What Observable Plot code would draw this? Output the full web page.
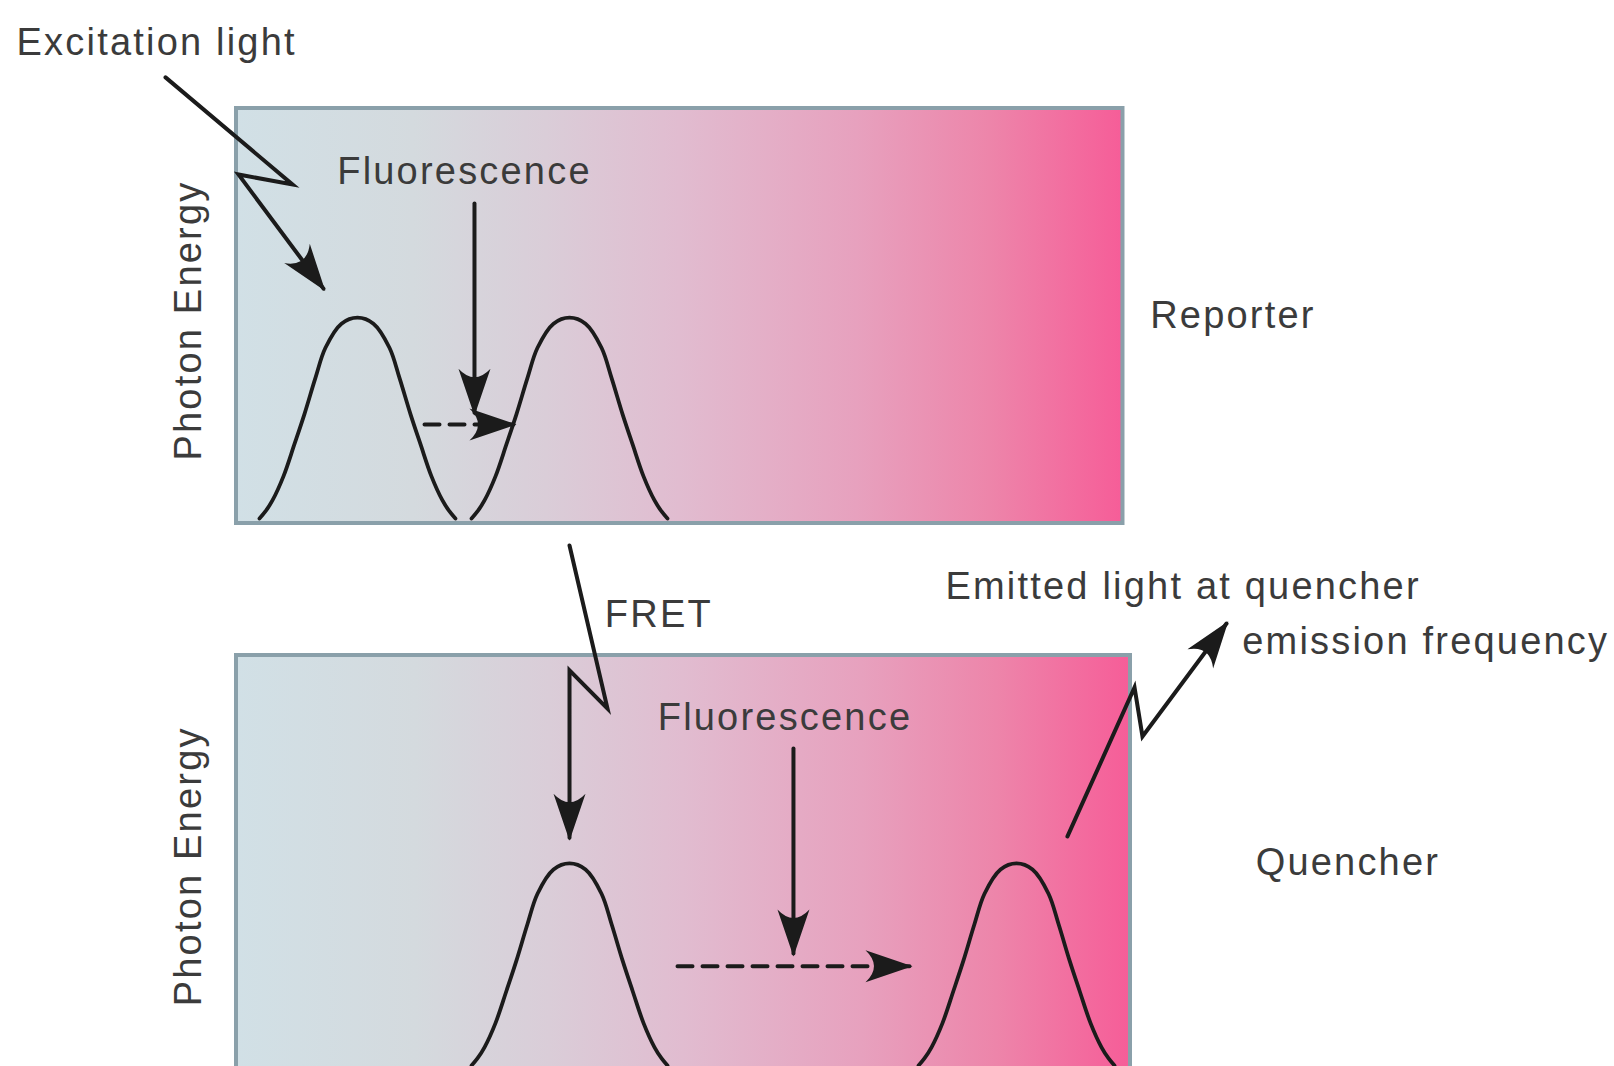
<!DOCTYPE html>
<html>
<head>
<meta charset="utf-8">
<script src="https://cdn.jsdelivr.net/npm/d3@7"></script>
<script src="https://cdn.jsdelivr.net/npm/@observablehq/plot@0.6"></script>
<style>
  html, body { margin: 0; padding: 0; background: #ffffff; overflow: hidden; }
  #chart svg { display: block; }
</style>
</head>
<body>
<div id="chart"></div>
<script>
// ---- Panels (x: relative wavelength 0..100, y: relative photon energy 0..1) ----
const panels = ["Reporter", "Quencher"];
const panelRightEdge = [99.16, 100];

// ---- Emission / absorption peaks ----
const peakPanel = ["Reporter", "Reporter", "Quencher", "Quencher"];
const peakCenter = [13.53, 37.25, 37.25, 87.25];
const peakTop = [0.496, 0.496, 0.499, 0.499];
const peakBase = 0.012;
// peak shape (offset from centre, fraction of height)
const profileOffset = [0, 1.79, 3.58, 4.70, 5.93, 7.05, 8.28, 9.51, 10.3, 10.96];
const profileLevel  = [1, 0.97, 0.85, 0.70, 0.52, 0.37, 0.21, 0.09, 0.035, 0];

// ---- Arrows ----
const arrowNames  = ["excitation", "reporterFluor", "reporterShift", "fret", "quencherFluor", "quencherShift", "emitted"];
const arrowPanel  = ["Reporter", "Reporter", "Reporter", "Quencher", "Quencher", "Quencher", "Quencher"];
const arrowDashed = [false, false, true, false, false, true, false];
const arrowX = [
  [-7.94, 6.26, 0.22, 9.73],
  [26.62, 26.62],
  [21.03, 30.98],
  [37.25, 41.50, 37.25, 37.25],
  [62.30, 62.30],
  [49.33, 75.28],
  [92.95, 100.45, 101.34, 110.74]
];
const arrowY = [
  [1.075, 0.817, 0.841, 0.566],
  [0.771, 0.267],
  [0.2386, 0.2386],
  [1.265, 0.872, 0.964, 0.561],
  [0.776, 0.282],
  [0.251, 0.251],
  [0.564, 0.923, 0.805, 1.077]
];
const arrowHeadAngle = [143, 180, 90, 180, 180, 90, 36.6];

// ---- Labels ----
const labelText  = ["Excitation light", "Fluorescence", "Reporter", "Photon Energy",
                    "FRET", "Fluorescence", "Emitted light at quencher", "emission frequency", "Quencher", "Photon Energy"];
const labelPanel = ["Reporter", "Reporter", "Reporter", "Reporter",
                    "Quencher", "Quencher", "Quencher", "Quencher", "Quencher", "Quencher"];
const labelX = [-24.6, 25.5, 102.2, -5.37, 41.2, 61.35, 79.3, 112.5, 114.0, -5.37];
const labelY = [1.158, 0.848, 0.500, 0.489, 1.098, 0.851, 1.165, 1.032, 0.500, 0.492];
const labelAnchor = ["start", "middle", "start", "middle", "start", "middle", "start", "start", "start", "middle"];
const labelRotate = [0, 0, 0, -90, 0, 0, 0, 0, 0, -90];

// ---- Build tables for Plot ----
const panelData = panels.map((p, i) => ({panel: p, right: panelRightEdge[i]}));

const sideOffset = [...profileOffset.slice(1).reverse().map(d => -d), ...profileOffset];
const sideLevel  = [...profileLevel.slice(1).reverse(), ...profileLevel];
const peakPoints = peakCenter.flatMap((c, i) => sideOffset.map((o, j) => ({
  peak: i, panel: peakPanel[i], x: c + o, y: peakBase + sideLevel[j] * (peakTop[i] - peakBase)
})));

const arrowPoints = arrowNames.flatMap((n, i) => arrowX[i].map((x, j) => ({
  name: n, panel: arrowPanel[i], dashed: arrowDashed[i], x, y: arrowY[i][j]
})));
const heads = arrowNames.map((n, i) => ({
  name: n, panel: arrowPanel[i],
  x: arrowX[i][arrowX[i].length - 1], y: arrowY[i][arrowY[i].length - 1], angle: arrowHeadAngle[i]
}));
const labels = labelText.map((t, i) => ({
  text: t, panel: labelPanel[i], x: labelX[i], y: labelY[i], anchor: labelAnchor[i], rotate: labelRotate[i]
}));

// arrowhead symbol (pointing up, tip at the anchor point)
const headSymbol = {
  draw(ctx) {
    ctx.moveTo(0, -3);
    ctx.lineTo(16, 44);
    ctx.quadraticCurveTo(0, 27, -16, 44);
    ctx.closePath();
  }
};

const gradientDefs = () => {
  const defs = d3.create("svg:defs");
  const g = defs.append("linearGradient").attr("id", "panelGrad")
    .attr("x1", "0").attr("y1", "0").attr("x2", "1").attr("y2", "0");
  [[0, "#d1e0e6"], [0.2, "#d4dade"], [0.35, "#dacdd8"], [0.5, "#e1bcd0"],
   [0.7, "#e7a1be"], [0.85, "#ed85aa"], [1, "#f65d98"]]
    .forEach(([o, c]) => g.append("stop").attr("offset", o).attr("stop-color", c));
  return defs.node();
};

const font = "'Liberation Sans', Arial, Helvetica, sans-serif";
const ink = "#1b1b1b";

const labelMarks = ["start", "middle"].flatMap(a => [0, -90].map(r =>
  Plot.text(labels.filter(d => d.anchor === a && d.rotate === r), {
    x: "x", y: "y", fy: "panel", text: "text", textAnchor: a, rotate: r,
    fontFamily: font, fontSize: 38, fill: "#3b3b3b"
  })
));

const chart = Plot.plot({
  width: 1614,
  height: 1070,
  marginTop: 108,
  marginBottom: 0,
  marginLeft: 236,
  marginRight: 484,
  facet: {marginTop: 0, marginRight: 0, marginBottom: 0, marginLeft: 0},
  x: {domain: [0, 100], axis: null},
  y: {domain: [0, 1], axis: null},
  fy: {domain: panels, axis: null, paddingInner: 0.2415, paddingOuter: 0},
  style: {background: "#ffffff", overflow: "visible", letterSpacing: "2.2px"},
  marks: [
    gradientDefs,
    Plot.rect(panelData, {
      x1: 0, x2: "right", y1: 0, y2: 1, fy: "panel",
      fill: "url(#panelGrad)", stroke: "#8aa0aa", strokeWidth: 4
    }),
    Plot.line(peakPoints, {
      x: "x", y: "y", z: "peak", fy: "panel", curve: "catmull-rom",
      stroke: ink, strokeWidth: 3.8
    }),
    Plot.line(arrowPoints.filter(d => !d.dashed), {
      x: "x", y: "y", z: "name", fy: "panel", curve: "linear",
      stroke: ink, strokeWidth: 4, strokeLinejoin: "miter", strokeMiterlimit: 10
    }),
    Plot.line(arrowPoints.filter(d => d.dashed), {
      x: "x", y: "y", z: "name", fy: "panel",
      stroke: ink, strokeWidth: 4, strokeDasharray: "15,10"
    }),
    Plot.dot(heads, {
      x: "x", y: "y", fy: "panel", rotate: "angle", symbol: headSymbol, r: 10,
      fill: ink, stroke: "none"
    }),
    ...labelMarks
  ]
});

document.getElementById("chart").appendChild(chart);
</script>
</body>
</html>
